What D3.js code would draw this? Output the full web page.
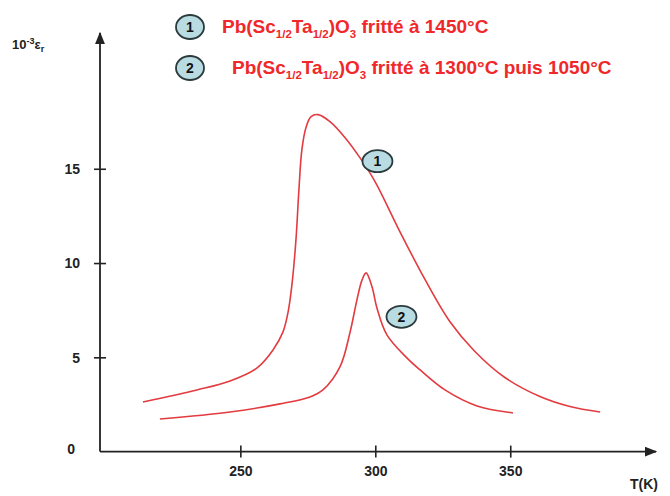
<!DOCTYPE html>
<html><head><meta charset="utf-8">
<script src="https://cdn.jsdelivr.net/npm/d3@7/dist/d3.min.js"></script>
<style>body{margin:0;background:#fff}svg{display:block}</style>
</head><body><svg id="c" width="670" height="496"></svg>
<script>
// Data (T in K, permittivity in 10^3 units)
const curve1T = [213.9,233.9,246.2,256.2,262.1,265.8,267.7,269.1,270.6,271.7,272.8,274.3,276.2,278.8,283.2,288.8,294.3,299.9,309.1,318.4,327.6,336.9,348.0,361.0,372.1,383.3];
const curve1E = [2.63,3.27,3.75,4.44,5.39,6.35,7.41,8.84,11.23,13.89,16.01,17.18,17.76,17.87,17.50,16.65,15.59,14.32,11.67,9.13,6.90,5.31,3.93,2.92,2.39,2.10];
const curve2T = [220.2,246.2,264.7,275.8,280.6,286.9,290.6,293.2,295.1,296.6,298.8,300.6,304.3,311.7,316.6,325.8,337.7,351.0];
const curve2E = [1.73,2.10,2.53,2.90,3.27,4.49,6.30,8.05,9.11,9.48,8.73,7.62,6.19,4.97,4.33,3.27,2.42,2.05];
const xTicks = [250,300,350];
const yTicks = [0,5,10,15];
const legendLabels = ["1","2"];
const legendTexts = ["fritté à 1450°C","fritté à 1300°C puis 1050°C"];
const curveLabelPos = [[300.8,15.4],[309.7,7.15]]; // badge centres (T, eps)

const svg = d3.select("#c");
const FONT = "'Liberation Sans', Arial, sans-serif";
const x = d3.scaleLinear().domain([198,404]).range([100,656]);
const y = d3.scaleLinear().domain([0,22.2]).range([451.6,33]);
const RED = "#e23b40", AX = "#222";

svg.append("defs").append("marker").attr("id","arr").attr("viewBox","0 0 10 10")
  .attr("refX",9).attr("refY",5).attr("markerWidth",7).attr("markerHeight",7)
  .attr("orient","auto").append("path").attr("d","M0,1 L10,5 L0,9 Z").attr("fill",AX);

// X axis
const gx = svg.append("g").attr("transform",`translate(0,${y(0)})`)
  .call(d3.axisBottom(x).tickValues(xTicks).tickSize(0).tickPadding(0));
gx.select(".domain").remove();
gx.append("line").attr("x1",x.range()[0]).attr("x2",x.range()[1]).attr("stroke",AX).attr("stroke-width",1.8).attr("marker-end","url(#arr)");
gx.selectAll(".tick line").attr("y1",-6).attr("y2",6).attr("stroke",AX).attr("stroke-width",1.6);
gx.selectAll(".tick text").attr("y",24).attr("dy",0).attr("font-family",FONT).attr("font-weight","bold").attr("font-size",14).attr("fill","#222");

// Y axis
const gy = svg.append("g").attr("transform",`translate(${x(198)},0)`)
  .call(d3.axisLeft(y).tickValues(yTicks).tickSize(0).tickPadding(0));
gy.select(".domain").remove();
gy.append("line").attr("y1",y.range()[0]).attr("y2",y.range()[1]).attr("stroke",AX).attr("stroke-width",1.8).attr("marker-end","url(#arr)");
gy.selectAll(".tick line").attr("x1",d=>d===0?0:-6).attr("x2",d=>d===0?0:6).attr("stroke",AX).attr("stroke-width",1.6);
gy.selectAll(".tick text").attr("x",-20).attr("dy","0.35em").attr("font-family",FONT).attr("font-weight","bold").attr("font-size",14).attr("fill","#222");
gy.selectAll(".tick").filter(d=>d===0).select("text").attr("dy","0.1em").attr("x",-25);

// axis titles
svg.append("text").attr("x",630).attr("y",489).attr("font-family",FONT).attr("font-weight","bold").attr("font-size",14).attr("fill","#222").text("T(K)");
const yl = svg.append("text").attr("x",12).attr("y",49).attr("font-family",FONT).attr("font-weight","bold").attr("font-size",13).attr("fill","#222");
yl.append("tspan").text("10");
yl.append("tspan").attr("dy",-5).attr("font-size",9).text("-3");
yl.append("tspan").attr("dy",5).text("ε");
yl.append("tspan").attr("dy",3).attr("font-size",9).text("r");

// curves
const line = d3.line().x(d=>x(d[0])).y(d=>y(d[1])).curve(d3.curveCatmullRom.alpha(0.5));
[[curve1T,curve1E],[curve2T,curve2E]].forEach(([T,E])=>{
  svg.append("path").datum(T.map((t,i)=>[t,E[i]])).attr("d",line)
    .attr("fill","none").attr("stroke",RED).attr("stroke-width",1.6);
});

function badge(cx,cy,label,rx,ry){
  svg.append("ellipse").attr("cx",cx).attr("cy",cy).attr("rx",rx).attr("ry",ry)
    .attr("fill","#b8dce2").attr("stroke","#2b3a3c").attr("stroke-width",1.8);
  svg.append("text").attr("x",cx).attr("y",cy).attr("dy","0.36em").attr("text-anchor","middle")
    .attr("font-family",FONT).attr("font-weight","bold").attr("font-size",14).attr("fill","#111").text(label);
}
curveLabelPos.forEach((p,i)=>badge(x(p[0]),y(p[1]),legendLabels[i],15,11));

// legend
const legY = [27,68], legX = [222,232];
legendLabels.forEach((l,i)=>{
  badge(190,legY[i],l,14,12);
  const t = svg.append("text").attr("x",legX[i]).attr("y",legY[i]+6).attr("font-family",FONT)
    .attr("font-weight","bold").attr("font-size",19).attr("fill","#f0282a");
  t.append("tspan").text("Pb(Sc");
  t.append("tspan").attr("dy",5).attr("font-size",11.5).text("1/2");
  t.append("tspan").attr("dy",-5).text("Ta");
  t.append("tspan").attr("dy",5).attr("font-size",11.5).text("1/2");
  t.append("tspan").attr("dy",-5).text(")O");
  t.append("tspan").attr("dy",5).attr("font-size",11.5).text("3");
  t.append("tspan").attr("dy",-5).text(" " + legendTexts[i]);
});
</script></body></html>
